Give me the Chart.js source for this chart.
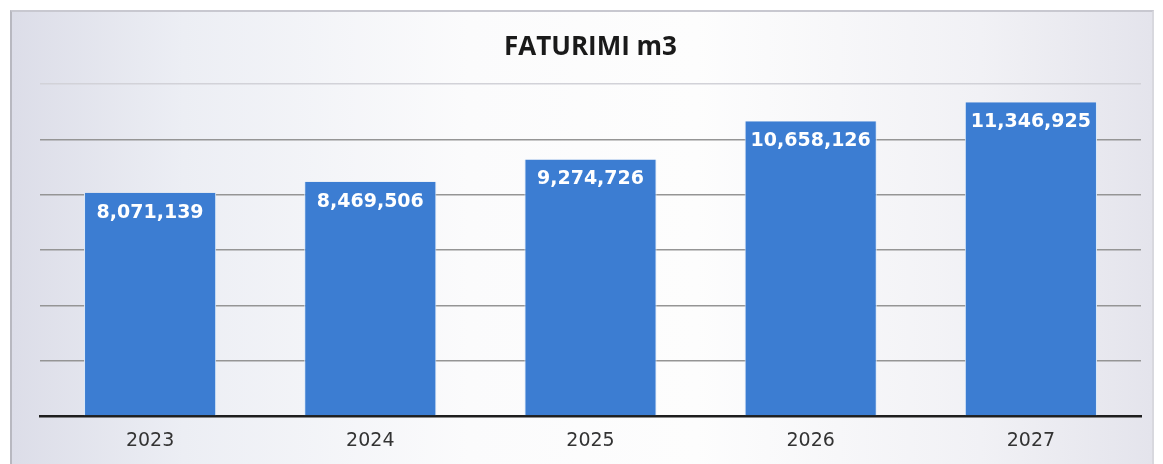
<!DOCTYPE html>
<html>
<head>
<meta charset="utf-8">
<script src="https://cdn.jsdelivr.net/npm/chart.js@4/dist/chart.umd.min.js"></script>
<style>
  html, body { margin: 0; padding: 0; background: #ffffff; }
  #wrap { position: relative; width: 1163px; height: 464px; overflow: hidden; }
  #frame { position: absolute; left: 10px; top: 10px; width: 1140px; height: 460px;
    border-left: 2px solid #b8b8c0; border-top: 2px solid #c8c8d0; border-right: 2px solid #d8d8de;
    background: linear-gradient(90deg, #dcdde8 0%, #eceef4 15%, #fbfbfc 40%, #fdfdfd 60%, #f1f1f5 85%, #e4e4ec 100%); }
  #c { position: absolute; left: 0; top: 0; }
</style>
</head>
<body>
<div id="wrap">
  <div id="frame"></div>
  <canvas id="c" width="1163" height="464"></canvas>
</div>
<script>
const chartTitle = "FATURIMI m3";
const categories = ["2023", "2024", "2025", "2026", "2027"];
const values = [8071139, 8469506, 9274726, 10658126, 11346925];
const yMax = 12000000;
const yStep = 2000000;

const valueLabels = {
  id: 'valueLabels',
  afterDatasetsDraw(chart) {
    const ctx = chart.ctx;
    const meta = chart.getDatasetMeta(0);
    ctx.save();
    ctx.fillStyle = '#ffffff';
    ctx.font = 'bold 19px "DejaVu Sans"';
    ctx.textAlign = 'center';
    ctx.textBaseline = 'middle';
    meta.data.forEach((bar, i) => {
      const v = chart.data.datasets[0].data[i];
      ctx.fillText(v.toLocaleString('en-US'), bar.x, bar.y + 20);
    });
    ctx.restore();
  }
};

new Chart(document.getElementById('c'), {
  type: 'bar',
  data: {
    labels: categories,
    datasets: [{
      data: values,
      backgroundColor: '#3c7dd2',
      borderColor: '#d8e8f8',
      borderWidth: { left: 1, right: 1, top: 0, bottom: 0 },
      categoryPercentage: 1.0,
      barPercentage: 0.6
    }]
  },
  options: {
    responsive: false,
    animation: false,
    layout: { padding: { left: 40, right: 22, top: 0, bottom: 0 } },
    plugins: {
      legend: { display: false },
      tooltip: { enabled: false },
      title: {
        display: true,
        text: chartTitle,
        color: '#1a1a1a',
        font: { family: '"Open Sans"', size: 26, weight: 'bold' },
        padding: { top: 32, bottom: 21 }
      }
    },
    scales: {
      x: {
        grid: { display: false, drawTicks: false },
        border: { display: true, color: '#1e1e1e', width: 2.5 },
        ticks: { color: '#333333', font: { family: '"DejaVu Sans"', size: 19 }, padding: 14 },
        afterFit(scale) { scale.height = 48; }
      },
      y: {
        min: 0,
        max: yMax,
        ticks: { display: false, stepSize: yStep },
        border: { display: false },
        grid: {
          color: (c) => (c.tick && c.tick.value === yMax) ? '#d2d2d8' : '#959595',
          lineWidth: 1.5,
          drawTicks: false
        }
      }
    }
  },
  plugins: [valueLabels]
});
</script>
</body>
</html>
